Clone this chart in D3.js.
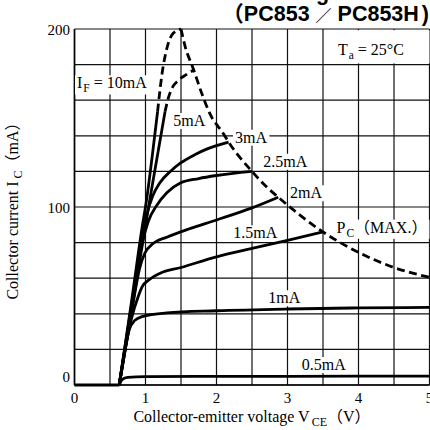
<!DOCTYPE html>
<html><head><meta charset="utf-8">
<script src="https://cdn.jsdelivr.net/npm/d3@7"></script>
<style>html,body{margin:0;padding:0;background:#fff;} svg{display:block}</style>
</head><body>
<svg id="c" width="430" height="430"></svg>
<script>
// ---- data ----
const vceTicks = [0, 1, 2, 3, 4, 5];
const icTicks = [0, 100, 200];
const vceGrid = [0, 0.5, 1, 1.5, 2, 2.5, 3, 3.5, 4, 4.5, 5];
const icGrid = [0, 20, 40, 60, 80, 100, 120, 140, 160, 180, 200];

const cutoff = [[0, 0], [0.63, 0]];
const curveIF10 = [[0.63, 0], [0.8, 46], [0.95, 88], [1.015, 104], [1.09, 127], [1.17, 153.5]];
const curveIF10Dash = [[1.17, 153.5], [1.23, 174], [1.3, 189], [1.39, 197.6], [1.5, 200]];
const curveIF5 = [[0.63, 0], [0.8, 41], [1.06, 104], [1.157, 126.4], [1.275, 153.5]];
const curveIF5Dash = [[1.275, 153.5], [1.32, 161], [1.37, 166.5], [1.46, 171], [1.58, 174.5], [1.68, 177]];
const curveIF3 = [[0.63, 0], [0.8, 44], [0.95, 82], [1.02, 96], [1.1, 106], [1.2, 113.5], [1.35, 120], [1.49, 124.6], [1.7, 129.5], [1.86, 132.5], [2.17, 136.5]];
const curveIF2_5 = [[0.63, 0], [0.8, 43], [0.95, 79], [1.04, 92], [1.16, 101], [1.3, 108], [1.49, 113.5], [1.75, 116], [2.0, 117.7], [2.5, 120]];
const curveIF2 = [[0.63, 0], [0.8, 40], [0.92, 66], [0.99, 74], [1.11, 79.6], [1.3, 83], [1.6, 87.5], [2.0, 92.7], [2.5, 99.5], [2.87, 105.5]];
const curveIF1_5 = [[0.63, 0], [0.8, 37], [0.9, 50], [0.95, 55], [1.06, 59.4], [1.2, 62.7], [1.5, 66], [2.0, 72], [2.5, 76.7], [3.0, 81.3], [3.5, 86]];
const curveIF1 = [[0.63, 0], [0.72, 22], [0.77, 31], [0.85, 36.3], [0.95, 38.4], [1.3, 40.5], [2, 41.7], [3, 42.7], [4, 43.3], [5, 43.6]];
const curveIF0_5 = [[0.63, 0], [0.67, 3], [0.75, 4.3], [1.0, 4.7], [3, 4.9], [5, 5]];
const pcMax = [[1.5, 200], [1.56, 190], [1.67, 178], [1.8, 163], [1.9, 153], [2.1, 141], [2.17, 136.5], [2.5, 120], [2.7, 111.5], [2.87, 105.5], [3.5, 86], [4, 74.5], [4.5, 66], [5, 60.5]];

// ---- drawing ----
const svg = d3.select("#c");
const x = d3.scaleLinear().domain([0, 5]).range([74.5, 429.5]);
const y = d3.scaleLinear().domain([0, 200]).range([385, 29]);
const SERIF = "'Liberation Serif','Times New Roman','Noto Sans CJK JP',serif";

const gGrid = svg.append("g");
const gBg = svg.append("g");
const gCurves = svg.append("g");
const gText = svg.append("g").attr("font-family", SERIF).attr("fill", "#000");

gGrid.selectAll("line.v").data(vceGrid).join("line")
  .attr("x1", d => x(d)).attr("x2", d => x(d))
  .attr("y1", y(0)).attr("y2", y(200))
  .attr("stroke", "#111").attr("stroke-width", 1.2);
gGrid.selectAll("line.h").data(icGrid).join("line")
  .attr("y1", d => y(d)).attr("y2", d => y(d))
  .attr("x1", x(0)).attr("x2", x(5))
  .attr("stroke", "#111").attr("stroke-width", 1.2);
// axes
gGrid.append("line").attr("x1", x(0)).attr("x2", x(0)).attr("y1", y(0)).attr("y2", y(200)).attr("stroke", "#000").attr("stroke-width", 1.6);
gGrid.append("line").attr("x1", x(0)).attr("x2", x(5)).attr("y1", y(0)).attr("y2", y(0)).attr("stroke", "#000").attr("stroke-width", 1.6);

// Ta box
gBg.append("rect").attr("x", x(3.5) + 1.5).attr("y", y(200) + 1.2)
  .attr("width", x(5) - x(3.5) - 1.5).attr("height", y(180) - y(200) - 2.4).attr("fill", "#fff");

const lineGen = d3.line().x(d => x(d[0])).y(d => y(d[1])).curve(d3.curveMonotoneX);
function curve(data, dashed) {
  gCurves.append("path").attr("d", lineGen(data)).attr("fill", "none")
    .attr("stroke", "#000").attr("stroke-width", 2.8)
    .attr("stroke-linejoin", "round")
    .attr("stroke-dasharray", dashed ? "8,4.5" : null);
}
gCurves.append("path").attr("d", d3.line().x(d => x(d[0])).y(d => y(d[1]))(cutoff))
  .attr("stroke", "#000").attr("stroke-width", 2.8).attr("fill", "none");
[curveIF10, curveIF5, curveIF3, curveIF2_5, curveIF2, curveIF1_5, curveIF1, curveIF0_5].forEach(c => curve(c, false));
[curveIF10Dash, curveIF5Dash, pcMax].forEach(c => curve(c, true));

// labels: parts alternate [text, sub, text...]
function label(px, py, parts, size, bg) {
  const t = gText.append("text").attr("x", px).attr("y", py).attr("font-size", size);
  parts.forEach((p, i) => {
    const ts = t.append("tspan").text(p);
    if (i % 2 === 1) {
      ts.attr("font-size", size * 0.72).attr("dy", size * 0.26).attr("dx", 1);
    } else if (i > 0) {
      ts.attr("dy", -size * 0.26);
    }
  });
  if (bg) {
    const b = t.node().getBBox();
    gBg.append("rect").attr("x", b.x - 2).attr("y", b.y + 1).attr("width", b.width + 4).attr("height", b.height - 1).attr("fill", "#fff");
  }
  return t;
}
label(x(0.035), y(166.7), ["I", "F", " = 10mA"], 16, true);
label(x(1.39), y(145.5), ["5mA"], 16, true);
label(x(2.26), y(136.1), ["3mA"], 16, true);
label(x(2.66), y(122.6), ["2.5mA"], 16, true);
label(x(3.035), y(104.9), ["2mA"], 16, true);
label(x(2.237), y(82.4), ["1.5mA"], 16, true);
label(x(3.69), y(85.6), ["P", "C", "（MAX.）"], 16, true);
label(x(2.73), y(45.9), ["1mA"], 16, true);
label(x(3.2), y(8.4), ["0.5mA"], 16, true);
label(x(3.71), y(185.4), ["T", "a", " = 25°C"], 16, false);

// tick labels
gText.selectAll("text.xt").data(vceTicks).join("text")
  .attr("x", d => x(d)).attr("y", 403).attr("text-anchor", "middle").attr("font-size", 15).text(d => d);
gText.selectAll("text.yt").data(icTicks).join("text")
  .attr("x", 70).attr("y", d => y(d) + (d === 0 ? -3 : 6)).attr("text-anchor", "end").attr("font-size", 15).text(d => d);

// axis titles
const xt = gText.append("text").attr("x", (x(0) + x(5)) / 2).attr("y", 422).attr("text-anchor", "middle").attr("font-size", 16);
xt.append("tspan").text("Collector-emitter voltage V");
xt.append("tspan").text("CE").attr("font-size", 12).attr("dy", 4).attr("dx", 2);
xt.append("tspan").text("（V）").attr("dy", -4);

const yt = gText.append("text").attr("transform", `translate(18,${(y(0) + y(200)) / 2}) rotate(-90)`).attr("text-anchor", "middle").attr("font-size", 16);
yt.append("tspan").text("Collector current I");
yt.append("tspan").text("C").attr("font-size", 12).attr("dy", 4).attr("dx", 3);
yt.append("tspan").text("（mA）").attr("dy", -4);

// title
const tt = svg.append("text").attr("x", 429).attr("y", 21).attr("text-anchor", "end")
  .attr("font-family", "'Liberation Sans',Arial,'Noto Sans CJK JP',sans-serif").attr("font-weight", "bold").attr("font-size", 21.5);
tt.append("tspan").text("（PC853 ");
tt.append("tspan").text("／").attr("font-weight", "normal").attr("font-size", 16);
tt.append("tspan").text(" PC853H");
tt.append("tspan").text(")").attr("dx", 3);
svg.append("text").attr("x", 341).attr("y", 0).attr("text-anchor", "end")
  .attr("font-family", "'Liberation Sans',Arial,sans-serif").attr("font-weight", "bold").attr("font-size", 21.5)
  .text("Voltage");
</script>
</body></html>
